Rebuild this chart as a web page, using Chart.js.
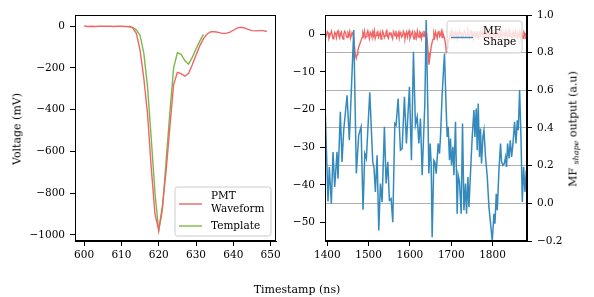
<!DOCTYPE html>
<html><head><meta charset="utf-8">
<script src="https://cdn.jsdelivr.net/npm/chart.js@4/dist/chart.umd.min.js"></script>
<style>
body{margin:0;width:594px;height:297px;background:#fff;position:relative;overflow:hidden;}
canvas{position:absolute;top:0;}
#c1{left:0;}
#c2{left:290px;}
.lbl{position:absolute;font-family:"DejaVu Serif";font-size:11px;color:#000;white-space:nowrap;line-height:1;transform:translate(-50%,-50%);}
.rot{transform:translate(-50%,-50%) rotate(-90deg);}
</style></head><body>
<canvas id="c1" width="290" height="297"></canvas>
<canvas id="c2" width="304" height="297"></canvas>
<div class="lbl" style="left:297px;top:289px;">Timestamp (ns)</div>
<div class="lbl rot" style="left:17px;top:129px;">Voltage (mV)</div>
<div class="lbl rot" style="left:574px;top:129px;">MF <i style="font-size:8px;vertical-align:-2px;">shape</i> output (a.u)</div>
<script>
// ---- data: left panel ----
const pmtTime = [600,601,602,603,604,605,606,607,608,609,610,611,612,613,614,615,616,617,618,619,620,621,622,623,624,625,626,627,628,629,630,631,632,633,634,635,636,637,638,639,640,641,642,643,644,645,646,647,648,649];
const pmtVoltage = [0,-2,-1,-2,-1,-1,-1,-1,-2,-1,-1,-2,-3,-8,-35,-115,-250,-420,-680,-900,-978,-860,-690,-480,-280,-222,-228,-240,-227,-185,-140,-95,-60,-38,-27,-27,-30,-35,-35,-30,-20,-10,-6,-9,-16,-22,-23,-22,-22,-26];
const templateTime = [612,613,614,615,616,617,618,619,620,621,622,623,624,625,626,627,628,629,630,631,632];
const templateVoltage = [-1,-6,-18,-45,-130,-290,-540,-800,-980,-880,-640,-410,-200,-128,-135,-165,-182,-150,-110,-72,-40];
const leftXTicks = [600,610,620,630,640,650];
const leftYTicks = [0,-200,-400,-600,-800,-1000];

// ---- data: right panel ----
const rawStart = 1394, rawStep = 2;
const rawVoltage = [
 0.3,-0.8,-0.2,0.7,0.4,-1.1,-0.5,0.2,0.8,-0.3,-1.2,-0.6,0.5,0.1,-0.9,0.6,0.9,-0.4,-1.0,0.2,
 0.6,-0.7,-1.3,0.1,0.8,0.4,-0.5,-0.9,0.3,-0.2,0.7,-1.1,-0.4,0.5,0.2,-1.2,-3.5,-5.5,-6.4,-5.4,
 -4.3,-3.4,-2.8,-2.2,-1.6,-0.9,0.4,-0.3,0.8,-1.0,-0.6,0.3,0.9,-0.2,-1.2,0.5,0.1,-0.7,0.6,-0.4,
 0.9,-1.1,-0.3,0.4,0.7,-0.8,-0.2,0.5,-1.3,-0.6,0.8,0.2,-0.9,-0.4,0.6,1.0,-0.7,-1.1,0.3,-0.1,
 0.5,-0.6,-1.2,0.7,0.2,-0.4,0.9,-0.9,-0.3,0.4,-1.0,0.6,0.1,-0.8,-0.5,0.8,0.3,-1.2,-0.2,0.6,
 -0.7,0.4,0.9,-1.1,-0.4,0.2,0.7,-0.6,-1.3,0.5,0.1,-0.9,0.8,-0.3,-0.8,0.6,0.3,-1.1,0.2,-0.5,
 0.9,-0.2,-1.0,0.4,-1.6,-5.0,-8.1,-6.5,-4.5,-3.0,-2.0,-1.3,0.2,-0.8,0.6,-0.3,-1.1,0.5,0.9,-0.6,
 -0.2,0.7,-0.9,0.3,-0.5,-1.2,-2.6,-4.5,-3.6,-2.5,-1.6,-0.9,0.4,-0.7,0.8,-0.4,-1.1,0.2,0.6,-0.8,
 0.3,-1.2,-0.5,0.9,0.1,-0.7,0.5,-1.0,-0.3,0.7,0.2,-0.9,-0.6,1.1,-0.2,-1.1,0.4,0.8,-0.5,-0.1,
 -1.2,0.6,0.3,-0.8,0.9,-0.4,-1.0,0.2,0.7,-0.6,-0.2,1.0,-0.9,-1.3,0.5,0.1,-0.7,0.8,-0.3,0.4,
 -1.1,-0.5,0.6,0.9,-0.8,0.2,-0.3,-1.2,0.7,0.4,-0.6,0.1,-0.9,1.2,-0.4,-1.0,0.5,0.3,-0.7,0.8,
 -0.2,-1.1,0.6,-0.5,0.9,0.2,-1.3,-0.4,0.7,-0.8,0.3,1.0,-0.6,-1.0,0.4,-0.2,0.8,-0.9,0.5,-0.4,
 -1.1,0.6,0.2,-0.7,0.3];
const mfTime = [1395.2,1401.7,1404.8,1409.7,1413.8,1417.9,1423.5,1425.9,1431.5,1435.6,1439.7,1447.8,1453.3,1464.0,1470.3,1476.0,1481.7,1486.5,1490.7,1494.5,1502.8,1510.0,1513.0,1516.4,1520.5,1524.6,1528.5,1532.6,1538.2,1542.3,1546.4,1550.3,1554.4,1558.5,1563.4,1566.5,1571.4,1577.0,1581.1,1586.7,1591.5,1594.9,1598.8,1603.6,1608.5,1613.3,1617.5,1621.6,1625.5,1629.6,1636.1,1639.3,1643.4,1645.8,1649.0,1651.4,1653.8,1657.9,1660.4,1663.5,1668.4,1671.5,1674.0,1678.1,1683.6,1687.8,1690.2,1692.6,1695.8,1698.2,1700.6,1704.0,1706.4,1710.3,1714.4,1716.8,1720.0,1724.1,1727.3,1730.7,1734.5,1737.0,1740.4,1742.8,1748.4,1750.8,1754.9,1757.3,1760.5,1762.9,1765.3,1768.5,1770.9,1773.3,1776.7,1779.2,1783.0,1787.2,1791.3,1795.2,1799.3,1803.4,1805.8,1809.0,1811.4,1815.5,1819.4,1821.8,1825.2,1828.4,1831.5,1833.9,1836.4,1839.8,1842.9,1846.1,1849.5,1853.3,1856.7,1859.9,1862.3,1865.5,1868.8,1872.0,1875.2,1878.5,1881.7];
const mfValue = [0.477,0.010,0.193,-0.002,0.273,0.087,0.273,0.131,0.486,0.220,0.388,0.574,0.335,0.920,0.158,0.362,0.406,-0.034,0.264,0.238,0.590,0.220,0.190,0.060,0.255,-0.144,0.105,0.007,0.406,0.105,0.220,0.016,0.025,-0.100,0.424,0.415,0.557,0.282,0.290,0.566,0.318,0.459,0.619,0.229,0.805,0.415,0.459,0.318,0.450,0.149,0.530,0.973,0.495,0.158,0.318,0.211,-0.180,0.229,0.220,0.158,0.318,0.264,0.353,0.583,0.796,0.495,0.353,0.406,0.229,0.344,0.202,0.300,0.149,0.433,-0.055,0.149,0.114,-0.055,0.424,-0.037,0.105,-0.055,0.140,-0.020,0.246,0.353,0.495,0.353,0.504,0.282,0.530,0.246,0.397,0.211,0.353,0.388,0.246,0.140,-0.020,-0.108,-0.200,-0.055,-0.108,0.051,-0.037,0.176,0.318,0.220,0.202,0.211,0.246,0.193,0.318,0.238,0.335,0.246,0.318,0.433,0.318,0.441,0.388,0.601,0.353,0.007,0.193,0.060,0.176];
const rightXTicks = [1400,1500,1600,1700,1800];
const rightYTicks = [0,-10,-20,-30,-40,-50];
const mfTicks = [-0.2,0.0,0.2,0.4,0.6,0.8,1.0];

// ---- styles ----
const RED = '#f06565', GREEN = '#7cb848', BLUE = '#348abd';
const FONT = {family:'DejaVu Serif', size:10.5};
const minus = s => String(s).replace('-', '\u2212');
const zip = (xs, ys) => xs.map((x,i) => ({x, y: ys[i]}));

const boxPlugin = {
  id:'box',
  afterDraw(chart){
    const a = chart.chartArea, c = chart.ctx;
    c.save(); c.strokeStyle='#000'; c.lineWidth=1;
    c.strokeRect(Math.round(a.left)+0.5, Math.round(a.top)+0.5, Math.round(a.right-a.left)-1, Math.round(a.bottom-a.top)-1);
    c.restore();
  }
};
function legendPlugin(cfg){
  return {
    id:'mylegend',
    afterDatasetsDraw(chart){
      const c = chart.ctx, a = chart.chartArea;
      const x0 = a.right - cfg.right - cfg.w, y0 = cfg.top != null ? a.top + cfg.top : a.bottom - cfg.bottom - cfg.h;
      c.save();
      const r = 2.5;
      c.beginPath();
      c.moveTo(x0+r, y0); c.lineTo(x0+cfg.w-r, y0); c.quadraticCurveTo(x0+cfg.w, y0, x0+cfg.w, y0+r);
      c.lineTo(x0+cfg.w, y0+cfg.h-r); c.quadraticCurveTo(x0+cfg.w, y0+cfg.h, x0+cfg.w-r, y0+cfg.h);
      c.lineTo(x0+r, y0+cfg.h); c.quadraticCurveTo(x0, y0+cfg.h, x0, y0+cfg.h-r);
      c.lineTo(x0, y0+r); c.quadraticCurveTo(x0, y0, x0+r, y0); c.closePath();
      c.fillStyle='rgba(255,255,255,0.8)'; c.fill();
      c.strokeStyle='#cccccc'; c.lineWidth=1; c.stroke();
      c.font = '10.5px "DejaVu Serif"'; c.fillStyle='#000'; c.textBaseline='middle'; c.textAlign='left';
      cfg.items.forEach(it => {
        const ds = chart.data.datasets[it.ds];
        const lines = ds.label.split('\n');
        c.strokeStyle = ds.borderColor; c.lineWidth = 1.4;
        c.beginPath(); c.moveTo(x0+cfg.sx0, y0+it.sy); c.lineTo(x0+cfg.sx1, y0+it.sy); c.stroke();
        lines.forEach((t,k) => c.fillText(t, x0+cfg.tx, y0+it.ty + k*it.lh));
      });
      c.restore();
    }
  };
}

const axisCommon = {
  grid:{drawOnChartArea:false, tickLength:5, color:'#000', tickColor:'#000', lineWidth:1},
  border:{color:'#000', width:1},
  ticks:{color:'#000', font:FONT, maxRotation:0, autoSkip:false}
};

new Chart(document.getElementById('c1'), {
  type:'line',
  data:{datasets:[
    {label:'PMT\nWaveform', data:zip(pmtTime, pmtVoltage), borderColor:RED, borderWidth:1.4, pointRadius:0, tension:0},
    {label:'Template', data:zip(templateTime, templateVoltage), borderColor:GREEN, borderWidth:1.4, pointRadius:0, tension:0}
  ]},
  options:{
    responsive:false, animation:false, devicePixelRatio:1,
    layout:{padding:{top:15, right:14, left:0, bottom:0}},
    plugins:{legend:{display:false}, tooltip:{enabled:false}},
    scales:{
      x:{type:'linear', min:597.55, max:651.45, ...axisCommon,
         ticks:{...axisCommon.ticks, padding:3, callback:v=>minus(v)},
         afterBuildTicks:s=>{s.ticks = leftXTicks.map(v=>({value:v}));},
         afterFit:s=>{s.height = 56;}},
      y:{type:'linear', min:-1029, max:53, ...axisCommon,
         ticks:{...axisCommon.ticks, padding:5, callback:v=>minus(v)},
         afterBuildTicks:s=>{s.ticks = leftYTicks.map(v=>({value:v}));},
         afterFit:s=>{s.width = 75;}}
    }
  },
  plugins:[boxPlugin, legendPlugin({right:5, bottom:5, w:96, h:49, sx0:4, sx1:27, tx:36,
    items:[{ds:0, sy:17, ty:9.5, lh:12.7},{ds:1, sy:39, ty:39, lh:12.7}]})]
});

new Chart(document.getElementById('c2'), {
  type:'line',
  data:{datasets:[
    {label:'PMT', data:rawVoltage.map((v,i)=>({x:rawStart+i*rawStep, y:v})), yAxisID:'y', borderColor:RED, borderWidth:1.4, pointRadius:0, tension:0, order:2},
    {label:'MF\nShape', data:zip(mfTime, mfValue), yAxisID:'y1', borderColor:BLUE, borderWidth:1.5, pointRadius:0, tension:0, order:1}
  ]},
  options:{
    responsive:false, animation:false, devicePixelRatio:1,
    layout:{padding:{top:15, right:0, left:0, bottom:0}},
    plugins:{legend:{display:false}, tooltip:{enabled:false}},
    scales:{
      x:{type:'linear', min:1394.4, max:1883.4, ...axisCommon,
         ticks:{...axisCommon.ticks, padding:3, callback:v=>minus(v)},
         afterBuildTicks:s=>{s.ticks = rightXTicks.map(v=>({value:v}));},
         afterFit:s=>{s.height = 56;}},
      y:{type:'linear', position:'left', min:-54.9, max:5.1, ...axisCommon,
         ticks:{...axisCommon.ticks, padding:5, callback:v=>minus(v)},
         afterBuildTicks:s=>{s.ticks = rightYTicks.map(v=>({value:v}));},
         afterFit:s=>{s.width = 35;}},
      y1:{type:'linear', position:'right', min:-0.2, max:1.0,
         grid:{drawOnChartArea:true, tickLength:5, color:'#b0b0b0', tickColor:'#000', lineWidth:1},
         border:{color:'#000', width:1},
         ticks:{color:'#000', font:FONT, padding:5, autoSkip:false, callback:v=>minus(v.toFixed(1))},
         afterBuildTicks:s=>{s.ticks = mfTicks.map(v=>({value:v}));},
         afterFit:s=>{s.width = 67;}}
    }
  },
  plugins:[boxPlugin, legendPlugin({right:5, top:6, w:75, h:32, sx0:4, sx1:26, tx:36,
    items:[{ds:1, sy:16.5, ty:10, lh:11.7}]})]
});
</script>
</body></html>
